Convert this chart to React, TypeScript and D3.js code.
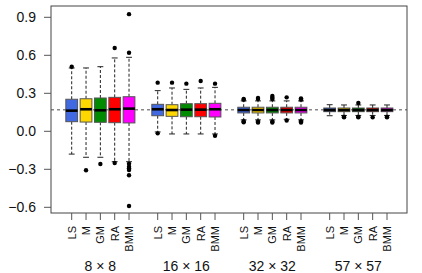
import React from "react";
import * as d3 from "d3";

const groups = ["8 × 8", "16 × 16", "32 × 32", "57 × 57"];
const methods = ["LS", "M", "GM", "RA", "BMM"];
const colors = ["#4169E1", "#FFD700", "#008B00", "#FF0000", "#FF00FF"];
const yTicks = [-0.6, -0.3, 0.0, 0.3, 0.6, 0.9];
const refValue = 0.17;

// [lower whisker, q1, median, q3, upper whisker] per group
const statsLS = [
  [-0.18, 0.076, 0.163, 0.253, 0.5],
  [-0.005, 0.123, 0.174, 0.213, 0.321],
  [0.09, 0.145, 0.168, 0.19, 0.24],
  [0.123, 0.155, 0.168, 0.184, 0.21],
];
const statsM = [
  [-0.205, 0.073, 0.174, 0.257, 0.5],
  [-0.021, 0.118, 0.168, 0.21, 0.342],
  [0.09, 0.145, 0.168, 0.19, 0.24],
  [0.125, 0.155, 0.168, 0.184, 0.208],
];
const statsGM = [
  [-0.205, 0.071, 0.166, 0.263, 0.51],
  [-0.021, 0.115, 0.171, 0.218, 0.331],
  [0.09, 0.145, 0.168, 0.19, 0.24],
  [0.125, 0.155, 0.168, 0.184, 0.208],
];
const statsRA = [
  [-0.24, 0.068, 0.174, 0.268, 0.579],
  [-0.021, 0.115, 0.171, 0.218, 0.342],
  [0.095, 0.145, 0.168, 0.19, 0.24],
  [0.125, 0.155, 0.168, 0.184, 0.208],
];
const statsBMM = [
  [-0.24, 0.066, 0.179, 0.273, 0.584],
  [-0.021, 0.113, 0.174, 0.221, 0.347],
  [0.09, 0.145, 0.168, 0.19, 0.24],
  [0.125, 0.155, 0.168, 0.184, 0.208],
];

const outLS = [[0.51], [0.384, -0.016], [0.255, 0.25, 0.08, 0.072], []];
const outM = [[-0.308], [0.384], [0.263, 0.255, 0.078, 0.07], [0.11, 0.115]];
const outGM = [[-0.258], [0.376], [0.279, 0.265, 0.255, 0.078, 0.07], [0.224, 0.11, 0.115]];
const outRA = [[0.658, -0.25], [0.397], [0.268, 0.085], [0.11]];
const outBMM = [
  [0.62, 0.925, -0.256, -0.279, -0.292, -0.305, -0.347, -0.59],
  [0.376, -0.035],
  [0.26, 0.25, 0.08, 0.07],
  [0.11, 0.115],
];

const allStats = [statsLS, statsM, statsGM, statsRA, statsBMM];
const allOut = [outLS, outM, outGM, outRA, outBMM];

const W = 422;
const H = 273;
const frame = { left: 51, right: 407, top: 6, bottom: 213 };

export default function App() {
  const y = d3.scaleLinear().domain([-0.6, 0.9]).range([207.3, 17.3]);
  const x = d3.scaleLinear().domain([1, 23]).range([71.7, 387]);
  const unit = x(2) - x(1);
  const bw = unit * 0.41;
  const cw = bw * 0.5;
  const font = "'Liberation Sans', Arial, Helvetica, sans-serif";

  const boxes: React.ReactNode[] = [];
  groups.forEach((g, gi) => {
    methods.forEach((m, mi) => {
      const pos = gi * 6 + mi + 1;
      const cx = x(pos);
      const [lo, q1, med, q3, hi] = allStats[mi][gi];
      const outs = allOut[mi][gi];
      boxes.push(
        <g key={`${gi}-${mi}`}>
          <line x1={cx} x2={cx} y1={y(q3)} y2={y(hi)} stroke="#222" strokeWidth={1} strokeDasharray="3,2" />
          <line x1={cx} x2={cx} y1={y(q1)} y2={y(lo)} stroke="#222" strokeWidth={1} strokeDasharray="3,2" />
          <line x1={cx - cw} x2={cx + cw} y1={y(hi)} y2={y(hi)} stroke="#222" strokeWidth={1} />
          <line x1={cx - cw} x2={cx + cw} y1={y(lo)} y2={y(lo)} stroke="#222" strokeWidth={1} />
          <rect x={cx - bw} y={y(q3)} width={bw * 2} height={y(q1) - y(q3)} fill={colors[mi]} stroke="#555" strokeWidth={1} />
          <line x1={cx - bw} x2={cx + bw} y1={y(med)} y2={y(med)} stroke="#000" strokeWidth={2.6} />
          {outs.map((o, oi) => (
            <circle key={oi} cx={cx} cy={y(o)} r={2.2} fill="#000" />
          ))}
        </g>
      );
    });
  });

  return (
    <svg width={W} height={H} style={{ position: "absolute", left: 0, top: 0 }} fontFamily={font}>
      <rect x={0} y={0} width={W} height={H} fill="#fff" />
      {/* reference line */}
      <line x1={frame.left} x2={frame.right} y1={y(refValue)} y2={y(refValue)} stroke="#888" strokeWidth={1.3} strokeDasharray="3,3" />
      {boxes}
      {/* frame */}
      <rect x={frame.left} y={frame.top} width={frame.right - frame.left} height={frame.bottom - frame.top} fill="none" stroke="#444" strokeWidth={1} />
      {/* y axis */}
      {yTicks.map((t) => (
        <g key={t}>
          <line x1={frame.left - 7} x2={frame.left} y1={y(t)} y2={y(t)} stroke="#555" strokeWidth={1} />
          <text x={36} y={y(t)} dy="0.36em" textAnchor="end" fontSize={14} fill="#111">
            {(t < 0 ? "\u2212" : "") + Math.abs(t).toFixed(1)}
          </text>
        </g>
      ))}
      {/* x axis */}
      {groups.map((g, gi) => (
        <g key={g}>
          {methods.map((m, mi) => {
            const cx = x(gi * 6 + mi + 1);
            return (
              <g key={m}>
                <line x1={cx} x2={cx} y1={frame.bottom} y2={frame.bottom + 7} stroke="#555" strokeWidth={1} />
                <text transform={`translate(${cx},${226}) rotate(-90)`} dy="0.36em" textAnchor="end" fontSize={11} fill="#111">
                  {m}
                </text>
              </g>
            );
          })}
          <text x={x(gi * 6 + 3)} y={270.5} textAnchor="middle" fontSize={14} fill="#111">
            {g}
          </text>
        </g>
      ))}
    </svg>
  );
}
